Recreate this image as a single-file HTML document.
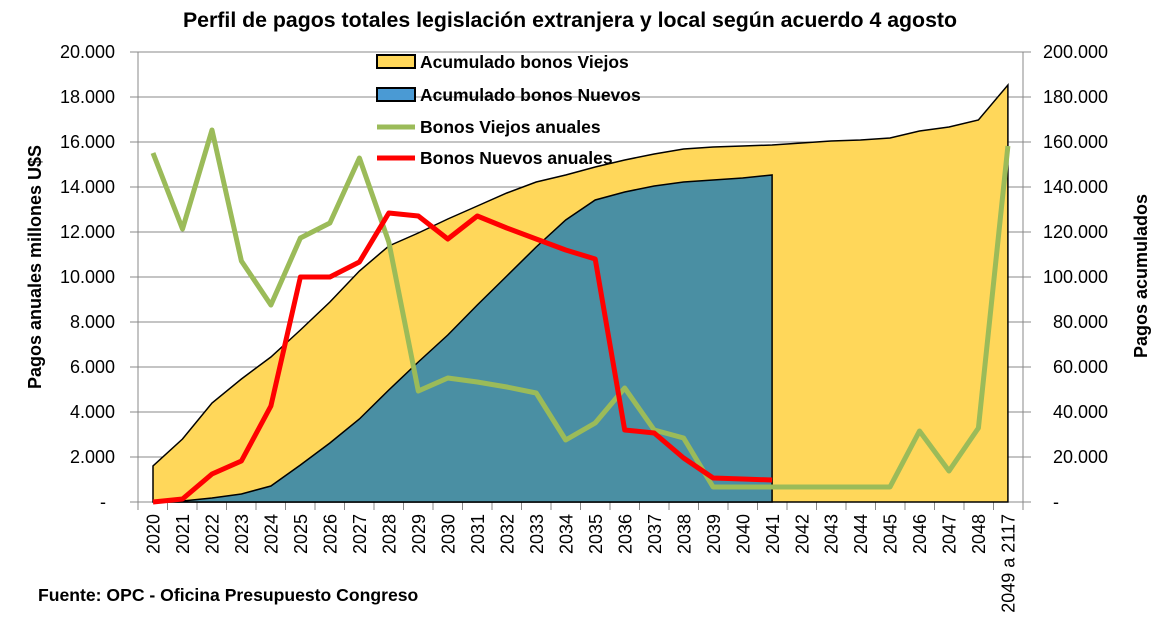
<!DOCTYPE html>
<html><head><meta charset="utf-8"><style>
body{margin:0;background:#fff;}
svg text{font-family:"Liberation Sans",sans-serif;}
</style></head><body>
<svg width="1168" height="623" viewBox="0 0 1168 623" xmlns="http://www.w3.org/2000/svg">
<rect width="1168" height="623" fill="#fff"/>
<text x="570" y="27" font-size="21.3" font-weight="bold" text-anchor="middle">Perfil de pagos totales legislación extranjera y local según acuerdo 4 agosto</text>
<g stroke="#888" stroke-width="1">
<line x1="130" y1="52" x2="1031" y2="52"/><line x1="130" y1="97" x2="1031" y2="97"/><line x1="130" y1="142" x2="1031" y2="142"/>
<line x1="130" y1="187" x2="1031" y2="187"/><line x1="130" y1="232" x2="1031" y2="232"/><line x1="130" y1="277" x2="1031" y2="277"/>
<line x1="130" y1="322" x2="1031" y2="322"/><line x1="130" y1="367" x2="1031" y2="367"/><line x1="130" y1="412" x2="1031" y2="412"/>
<line x1="130" y1="457" x2="1031" y2="457"/><line x1="130" y1="502" x2="1031" y2="502"/>
<line x1="138" y1="52" x2="138" y2="510"/><line x1="1023" y1="52" x2="1023" y2="510"/>
<path d="M138 502v8M167.5 502v8M197 502v8M226.5 502v8M256 502v8M285.5 502v8M315 502v8M344.5 502v8M374 502v8M403.5 502v8M433 502v8M462.5 502v8M492 502v8M521.5 502v8M551 502v8M580.5 502v8M610 502v8M639.5 502v8M669 502v8M698.5 502v8M728 502v8M757.5 502v8M787 502v8M816.5 502v8M846 502v8M875.5 502v8M905 502v8M934.5 502v8M964 502v8M993.5 502v8M1023 502v8"/>
</g>
<polygon id="yel" fill="#FFD75A" stroke="#000" stroke-width="1.5"/>
<polygon id="blu" fill="#4A8FA3" stroke="#000" stroke-width="1.5"/>
<polyline id="grn" fill="none" stroke="#9BBB59" stroke-width="5" stroke-linejoin="round"/>
<polyline id="red" fill="none" stroke="#FF0000" stroke-width="5" stroke-linejoin="round"/>
<g font-size="18" text-anchor="end">
<text x="115" y="58">20.000</text><text x="115" y="103">18.000</text><text x="115" y="148">16.000</text><text x="115" y="193">14.000</text>
<text x="115" y="238">12.000</text><text x="115" y="283">10.000</text><text x="115" y="328">8.000</text><text x="115" y="373">6.000</text>
<text x="115" y="418">4.000</text><text x="115" y="463">2.000</text><text x="106" y="508">-</text>
</g>
<g font-size="18">
<text x="1043" y="58">200.000</text><text x="1043" y="103">180.000</text><text x="1043" y="148">160.000</text><text x="1043" y="193">140.000</text>
<text x="1043" y="238">120.000</text><text x="1043" y="283">100.000</text><text x="1053" y="328">80.000</text><text x="1053" y="373">60.000</text>
<text x="1053" y="418">40.000</text><text x="1053" y="463">20.000</text><text x="1053" y="508">-</text>
</g>
<text transform="translate(41,267) rotate(-90)" font-size="18" font-weight="bold" text-anchor="middle">Pagos anuales millones U$S</text>
<text transform="translate(1147,276) rotate(-90)" font-size="18" font-weight="bold" text-anchor="middle">Pagos acumulados</text>
<g font-size="18" text-anchor="end">
<text transform="translate(159.5,514) rotate(-90)">2020</text>
<text transform="translate(189,514) rotate(-90)">2021</text>
<text transform="translate(218.5,514) rotate(-90)">2022</text>
<text transform="translate(248,514) rotate(-90)">2023</text>
<text transform="translate(277.5,514) rotate(-90)">2024</text>
<text transform="translate(307,514) rotate(-90)">2025</text>
<text transform="translate(336.5,514) rotate(-90)">2026</text>
<text transform="translate(366,514) rotate(-90)">2027</text>
<text transform="translate(395.4,514) rotate(-90)">2028</text>
<text transform="translate(425,514) rotate(-90)">2029</text>
<text transform="translate(454.4,514) rotate(-90)">2030</text>
<text transform="translate(484,514) rotate(-90)">2031</text>
<text transform="translate(513.4,514) rotate(-90)">2032</text>
<text transform="translate(543,514) rotate(-90)">2033</text>
<text transform="translate(572.4,514) rotate(-90)">2034</text>
<text transform="translate(602,514) rotate(-90)">2035</text>
<text transform="translate(631.4,514) rotate(-90)">2036</text>
<text transform="translate(661,514) rotate(-90)">2037</text>
<text transform="translate(690.3,514) rotate(-90)">2038</text>
<text transform="translate(720,514) rotate(-90)">2039</text>
<text transform="translate(749.3,514) rotate(-90)">2040</text>
<text transform="translate(778.8,514) rotate(-90)">2041</text>
<text transform="translate(808.3,514) rotate(-90)">2042</text>
<text transform="translate(837.7,514) rotate(-90)">2043</text>
<text transform="translate(867.2,514) rotate(-90)">2044</text>
<text transform="translate(896.7,514) rotate(-90)">2045</text>
<text transform="translate(926.2,514) rotate(-90)">2046</text>
<text transform="translate(955.7,514) rotate(-90)">2047</text>
<text transform="translate(985.1,514) rotate(-90)">2048</text>
<text transform="translate(1014.6,514) rotate(-90)">2049 a 2117</text>
</g>
<rect x="377" y="55" width="38" height="13" fill="#FFD75A" stroke="#000" stroke-width="2"/>
<rect x="377" y="88" width="38" height="13" fill="#4A9AD4" stroke="#000" stroke-width="2"/>
<line x1="377" y1="127" x2="415" y2="127" stroke="#9BBB59" stroke-width="5"/>
<line x1="377" y1="158" x2="415" y2="158" stroke="#FF0000" stroke-width="5"/>
<g font-size="17.5" font-weight="bold">
<text x="420" y="68">Acumulado bonos Viejos</text><text x="420" y="101">Acumulado bonos Nuevos</text>
<text x="420" y="133">Bonos Viejos anuales</text><text x="420" y="164">Bonos Nuevos anuales</text>
</g>
<text x="38" y="601" font-size="17.6" font-weight="bold">Fuente: OPC - Oficina Presupuesto Congreso</text>
<script>
var X=function(i){return 153+i*29.48;};
var yel=[466,439,403,379,357,330,302,271,246,233,219,206,193,182,175,167,160,154,149,147,146,145,143,141,140,138,131,127,120,85];
var blu=[502,501,498,494,486,465,443,419,390,362,335,305,276,247,220,200,192,186,182,180,178,175];
var grn=[153,229,130,261,305,238,223,158,242,391,378,382,387,393,440,423,388,430,438,487,487,487,487,487,487,487,431,471,428,146];
var red=[502,499,474,461,406,277,277,262,213,216,239,216,228,239,250,259,430,433,458,478,479,480];
function pts(a){return a.map(function(v,i){return X(i).toFixed(1)+","+v;}).join(" ");}
document.getElementById("yel").setAttribute("points",X(0)+",502 "+pts(yel)+" "+X(29)+",502");
document.getElementById("blu").setAttribute("points",X(0)+",502 "+pts(blu)+" "+X(21)+",502");
document.getElementById("grn").setAttribute("points",pts(grn));
document.getElementById("red").setAttribute("points",pts(red));
</script>
</svg>
</body></html>
